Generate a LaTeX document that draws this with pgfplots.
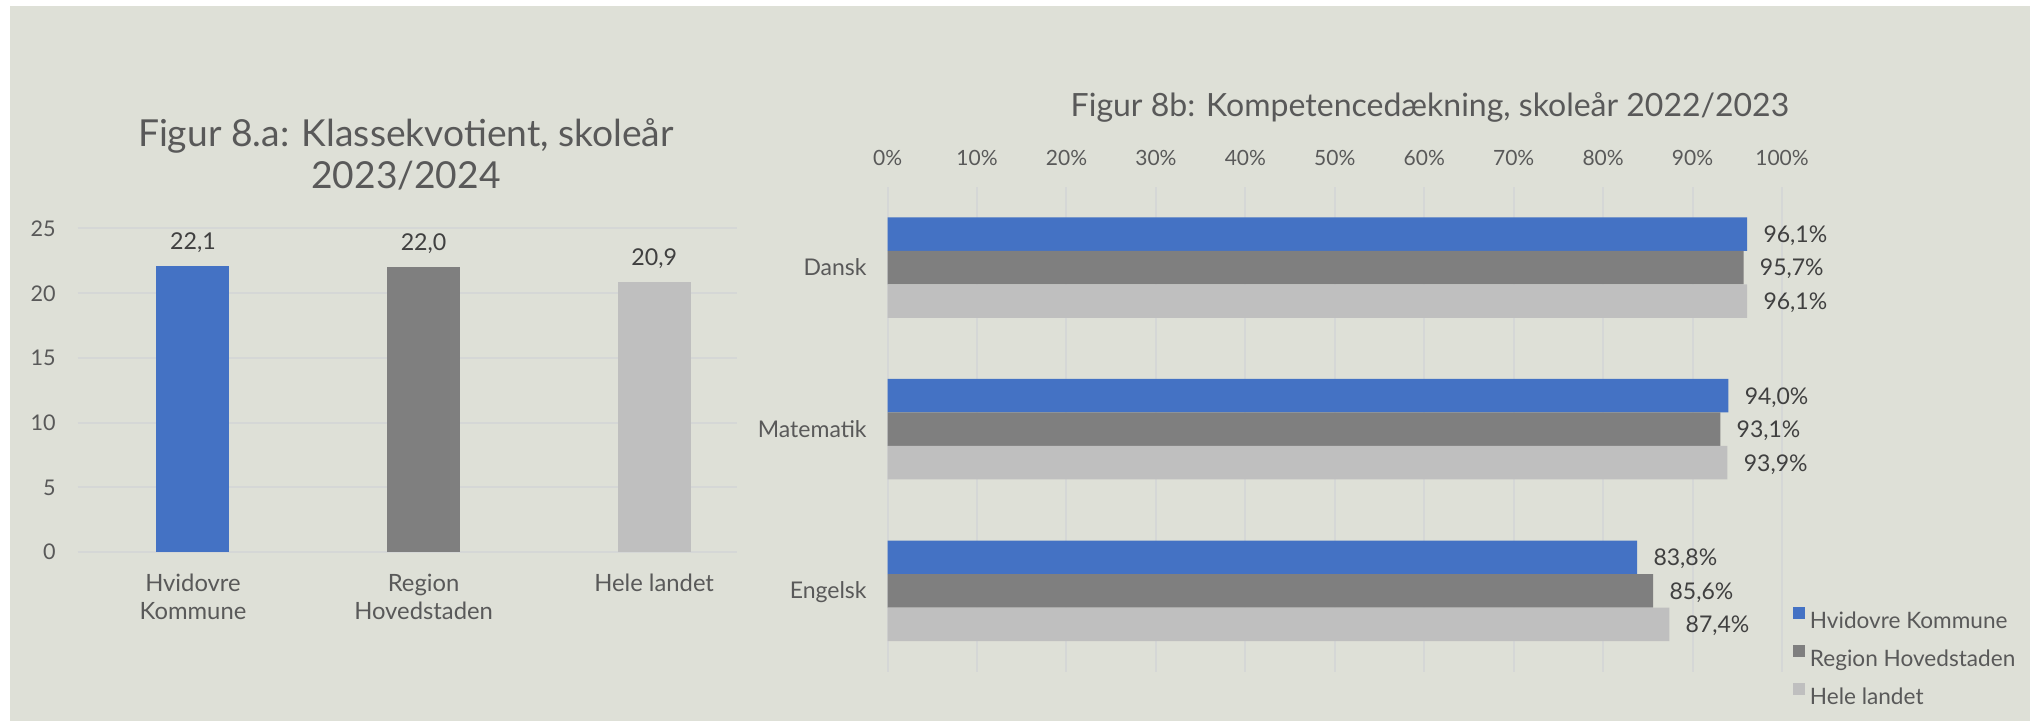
\documentclass[border=0pt]{standalone}
\usepackage{fontspec}
\setmainfont{Lato}
\usepackage{pgfplots}
\pgfplotsset{compat=1.18}
\definecolor{bg}{RGB}{222,224,215}
\definecolor{gridc}{RGB}{213,215,214}
\definecolor{txt}{HTML}{595959}
\definecolor{lbl}{HTML}{404040}
\definecolor{cblue}{HTML}{4472C4}
\definecolor{cgrey}{HTML}{7F7F7F}
\definecolor{clight}{HTML}{BFBFBF}
\begin{document}
\begin{tikzpicture}
\useasboundingbox (0pt,0pt) rectangle (1017.5pt,360.5pt);
\fill[white] (0pt,0pt) rectangle (1017.5pt,360.5pt);
\fill[bg] (5pt,0pt) rectangle (1015pt,357.5pt);
\node[anchor=base, inner sep=0pt, font=\fontsize{18.6}{20}\selectfont, text=txt] at (203pt,287.4pt) {Figur 8.a: Klassekvotient, skoleår};
\node[anchor=base, inner sep=0pt, font=\fontsize{18.6}{20}\selectfont, text=txt] at (203pt,266.25pt) {2023/2024};
\node[anchor=base, inner sep=0pt, font=\fontsize{16}{18}\selectfont, text=txt] at (715pt,302.15pt) {Figur 8b: Kompetencedækning, skoleår 2022/2023};

\begin{axis}[
  at={(38.85pt,84.5pt)}, anchor=south west,
  width=329.5pt, height=161.75pt, scale only axis,
  xmin=-0.5, xmax=2.358, ymin=0, ymax=25,
  ytick={0,5,...,25}, xtick={0,1,2},
  xticklabels={{Hvidovre\\Kommune},{Region\\Hovedstaden},{Hele landet}},
  /pgf/number format/assume math mode=true,
  axis line style={draw=none}, major tick length=0pt,
  ymajorgrids, grid style={color=gridc, line width=1pt},
  ybar, bar width=36.5pt, bar shift=0pt,
  xticklabel style={anchor=north, align=center, inner sep=0pt, yshift=-10.9pt, font=\fontsize{11.9}{13.8}\selectfont, text=txt},
  yticklabel style={anchor=east, inner sep=0pt, xshift=-10.85pt, text depth=0pt, font=\fontsize{10.8}{13}\selectfont, text=txt},
  nodes near coords={\pgfmathprintnumber[fixed,fixed zerofill,precision=1,use comma,assume math mode=true]{\pgfplotspointmeta}},
  every node near coord/.append style={inner sep=0pt, text depth=0pt, yshift=8pt, font=\fontsize{11.6}{13}\selectfont, text=lbl},
  clip=false,
]
\addplot[fill=cblue, draw=none] coordinates {(0,22.1)};
\addplot[fill=cgrey, draw=none] coordinates {(1,22.0)};
\addplot[fill=clight, draw=none] coordinates {(2,20.9)};
\end{axis}

\begin{axis}[
  at={(443.8pt,24.65pt)}, anchor=south west,
  width=447.2pt, height=242.5pt, scale only axis,
  xmin=0, xmax=100, ymin=-0.5, ymax=2.5,
  xtick={0,10,...,100},
  xticklabels={0\%,10\%,20\%,30\%,40\%,50\%,60\%,70\%,80\%,90\%,100\%},
  xticklabel pos=upper,
  ytick={0,1,2}, yticklabels={Engelsk,Matematik,Dansk},
  axis line style={draw=none}, major tick length=0pt,
  xmajorgrids, grid style={color=gridc, line width=1pt},
  xbar, bar width=16.75pt,
  xticklabel style={anchor=base, inner sep=0pt, yshift=10.35pt, font=\fontsize{10.5}{12}\selectfont, text=txt},
  yticklabel style={anchor=east, inner sep=0pt, xshift=-10.3pt, text depth=0pt, text height=8pt, font=\fontsize{11.5}{13}\selectfont, text=txt},
  point meta=x,
  nodes near coords={\pgfmathprintnumber[fixed,fixed zerofill,precision=1,use comma,assume math mode=true]{\pgfplotspointmeta}\%},
  every node near coord/.append style={inner sep=0pt, text depth=0pt, xshift=8pt, font=\fontsize{11.5}{13}\selectfont, text=lbl},
  clip=false,
  legend cell align=left,
  legend image code/.code={\fill[#1] (0pt,0.9pt) rectangle (5.85pt,6.75pt);},
  legend style={at={(1.0123,0.134)}, anchor=north west, draw=none, fill=none, inner sep=0pt, row sep=8.4pt, column sep=2.4pt,
    font=\fontsize{11.3}{13}\selectfont, text=txt, nodes={inner sep=0pt, text height=7.8pt, text depth=0pt}},
]
\addplot[fill=cblue, draw=none, bar shift=16.75pt] coordinates {(96.1,2) (94.0,1) (83.8,0)};
\addplot[fill=cgrey, draw=none, bar shift=0pt] coordinates {(95.7,2) (93.1,1) (85.6,0)};
\addplot[fill=clight, draw=none, bar shift=-16.75pt] coordinates {(96.1,2) (93.9,1) (87.4,0)};
\legend{Hvidovre Kommune, Region Hovedstaden, Hele landet}
\end{axis}
\end{tikzpicture}
\end{document}
